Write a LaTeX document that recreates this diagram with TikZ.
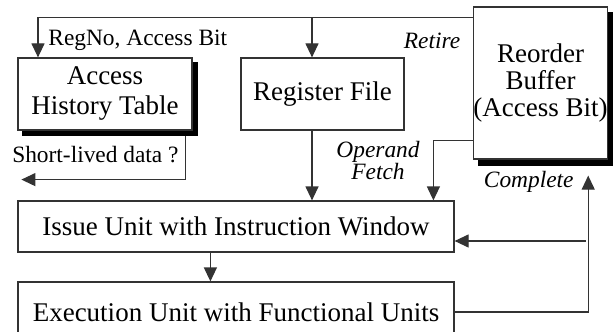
\documentclass[tikz,border=0pt]{standalone}
\usepackage{fontspec}
\setmainfont{Liberation Serif}
\usetikzlibrary{positioning, shapes, arrows.meta, calc}

\pgfdeclarelayer{shade}
\pgfsetlayers{shade,main}

\tikzset{
  unitbox/.style={draw=black!80, line width=0.6pt, fill=white, align=center, inner sep=0pt,
    font=\fontsize{13.5}{15}\selectfont},
  lbl/.style={font=\fontsize{11.7}{11}\selectfont, inner sep=0pt},
  flow/.style={-{Triangle[length=7pt, width=6.5pt]}, line width=0.6pt, draw=black!80},
}

\begin{document}
\begin{tikzpicture}[x=0.5pt, y=-0.5pt]
            \useasboundingbox (0,0) rectangle (613,331);

            \node (aht) at (105,94) [unitbox, minimum width=87pt, minimum height=36pt] {Access\\History Table};
            \node (regfile) at (322.5,94) [unitbox, minimum width=81.5pt, minimum height=36pt] {Register File};
            \node (rob) at (540.5,83) [unitbox, minimum width=66.5pt, minimum height=76pt,
                font=\fontsize{13.5}{13.5}\selectfont] {Reorder\\Buffer\\(Access Bit)};
            \node (issue) at (236,226.5) [unitbox, minimum width=218pt, minimum height=25.5pt] {Issue Unit with Instruction Window};
            \node (exec) at (236,312) [unitbox, minimum width=218pt, minimum height=30pt] {Execution Unit with Functional Units};

            % Black drop shadows
            \begin{pgfonlayer}{shade}
                \fill[black] ($(aht.north west)+(5,5)$) rectangle ($(aht.south east)+(5,5)$);
                \fill[black] ($(rob.north west)+(5,6)$) rectangle ($(rob.south east)+(5,6)$);
            \end{pgfonlayer}

            % Retire path along the top
            \coordinate (retire) at ($(rob.north west)+(0,11)$);
            \coordinate (regtop) at ($(regfile.north)+(-10.5,0)$);
            \draw[flow] (retire) -| ($(aht.north)+(-67,0)$);
            \draw[flow] (retire -| regtop) -- (regtop);

            % Operand fetch and dispatch
            \draw[flow] (regfile.south -| regtop) -- (issue.north -| regtop);
            \draw[flow] ($(rob.south west)+(0,-19)$) -| ($(issue.north west)+(416,0)$);
            \draw[flow] ($(issue.south west)+(193,0)$) -- ($(exec.north west)+(193,0)$);

            % Short-lived data
            \draw[flow] ($(aht.south east)+(-7,5)$) |- ($(aht.south west)+(4,49)$);

            % Complete feedback
            \coordinate (fb) at ($(rob.south east)+(-20,0)$);
            \draw[flow] (exec.east) -| ($(fb)+(0,16)$);
            \draw[flow] ($(issue.east)+(131,14.5)$) -- ($(issue.east)+(0,14.5)$);

            \node (regno) at (48,40) [lbl, anchor=west] {RegNo, Access Bit};
            \node (retirelbl) at (432,41) [lbl] {\itshape Retire};
            \node (shortlived) at (179,155) [lbl, anchor=east] {Short-lived data ?};
            \node (fetch) at (378,160) [lbl, align=center] {\itshape Operand\\\itshape Fetch};
            \node (complete) at (574,182) [lbl, anchor=east] {\itshape Complete};

        \end{tikzpicture}
\end{document}
